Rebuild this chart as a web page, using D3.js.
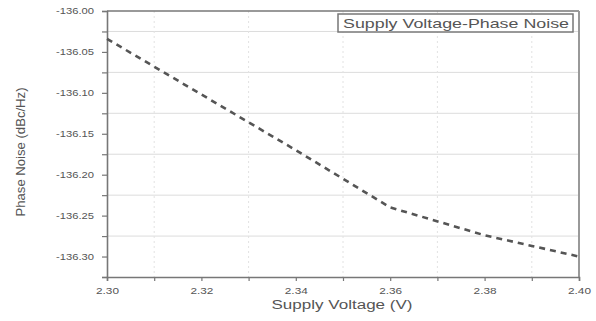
<!DOCTYPE html>
<html>
<head>
<meta charset="utf-8">
<script src="https://cdn.jsdelivr.net/npm/d3@7"></script>
<style>
  body { margin: 0; background: #fff; }
  svg { display: block; font-family: "Liberation Sans", Arial, sans-serif; }
</style>
</head>
<body>
<svg id="chart" width="596" height="321"></svg>
<script>
// data
const voltage = [2.30, 2.32, 2.34, 2.36, 2.38, 2.40];
const phaseNoise = [-136.034, -136.102, -136.170, -136.240, -136.274, -136.300];
const xTicks = [2.30, 2.32, 2.34, 2.36, 2.38, 2.40];
const yTicks = [-136.00, -136.05, -136.10, -136.15, -136.20, -136.25, -136.30];
const xMinor = [2.31, 2.33, 2.35, 2.37, 2.39];
const yMinor = [-136.025, -136.075, -136.125, -136.175, -136.225, -136.275, -136.325];

const plotL = 107, plotR = 579, plotT = 11, plotB = 277;
const svg = d3.select('#chart');

const x = d3.scaleLinear().domain([2.30, 2.40]).range([plotL, plotR]);
const y = d3.scaleLinear().domain([-136.325, -136.00]).range([plotB, plotT]);

// grid
svg.append('g').selectAll('line')
  .data(yMinor.slice(0, -1))
  .enter().append('line')
  .attr('x1', plotL).attr('x2', plotR)
  .attr('y1', d => y(d)).attr('y2', d => y(d))
  .attr('stroke', '#dcdcdc').attr('stroke-width', 1);

svg.append('g').selectAll('line')
  .data(xMinor)
  .enter().append('line')
  .attr('x1', d => x(d)).attr('x2', d => x(d))
  .attr('y1', plotT).attr('y2', plotB)
  .attr('stroke', '#e2e2e2').attr('stroke-width', 1)
  .attr('stroke-dasharray', '2,3');

// frame top and right
svg.append('line').attr('x1', plotL).attr('x2', plotR).attr('y1', plotT).attr('y2', plotT)
  .attr('stroke', '#777').attr('stroke-width', 1.6);
svg.append('line').attr('x1', plotR).attr('x2', plotR).attr('y1', plotT).attr('y2', plotB)
  .attr('stroke', '#999').attr('stroke-width', 2);

// axes
const xAxis = svg.append('g')
  .attr('transform', 'translate(0,' + plotB + ')')
  .call(d3.axisBottom(x).tickValues(xTicks.concat(xMinor)).tickSize(4)
    .tickFormat(d => xTicks.includes(d) ? d.toFixed(2) : ''));
const yAxis = svg.append('g')
  .attr('transform', 'translate(' + plotL + ',0)')
  .call(d3.axisLeft(y).tickValues(yTicks.concat(yMinor)).tickSize(5)
    .tickFormat(d => yTicks.some(t => Math.abs(t - d) < 1e-9) ? d.toFixed(2) : ''));

[xAxis, yAxis].forEach(a => {
  a.select('.domain').attr('stroke', '#777').attr('stroke-width', 1.6);
  a.selectAll('.tick line').attr('stroke', '#777').attr('stroke-width', 1.2);
  a.selectAll('.tick text').attr('fill', '#555').attr('font-size', 9)
    .attr('font-family', '"Liberation Sans", Arial, sans-serif');
});
xAxis.selectAll('.tick text').attr('dy', '1.1em')
  .filter(function () { return this.textContent; })
  .attr('textLength', 23).attr('lengthAdjust', 'spacingAndGlyphs');
yAxis.selectAll('.tick text').attr('x', -13)
  .filter(function () { return this.textContent; })
  .attr('textLength', 38).attr('lengthAdjust', 'spacingAndGlyphs');

// line
const line = d3.line().x((d, i) => x(voltage[i])).y(d => y(d));
svg.append('path')
  .datum(phaseNoise)
  .attr('d', line)
  .attr('fill', 'none')
  .attr('stroke', '#555')
  .attr('stroke-width', 2.6)
  .attr('stroke-dasharray', '6,5');

// axis titles
svg.append('text')
  .attr('x', 342).attr('y', 309)
  .attr('text-anchor', 'middle')
  .attr('font-size', 12.5).attr('fill', '#555')
  .attr('textLength', 141).attr('lengthAdjust', 'spacingAndGlyphs')
  .text('Supply Voltage (V)');

svg.append('text')
  .attr('transform', 'translate(25,152) rotate(-90)')
  .attr('text-anchor', 'middle')
  .attr('font-size', 12.5).attr('fill', '#555')
  .attr('textLength', 129).attr('lengthAdjust', 'spacingAndGlyphs')
  .text('Phase Noise (dBc/Hz)');

// legend
const lg = svg.append('g');
lg.append('rect').attr('x', 338).attr('y', 14).attr('width', 235).attr('height', 18)
  .attr('fill', '#fff').attr('stroke', '#777').attr('stroke-width', 1.5);
lg.append('text')
  .attr('x', 343).attr('y', 28)
  .attr('font-size', 13).attr('fill', '#555')
  .attr('textLength', 226).attr('lengthAdjust', 'spacingAndGlyphs')
  .text('Supply Voltage-Phase Noise');
</script>
</body>
</html>
